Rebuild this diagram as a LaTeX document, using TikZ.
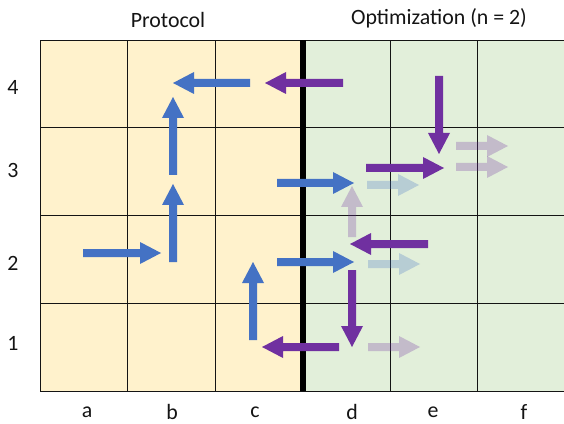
\documentclass[tikz,border=0pt]{standalone}
\usepackage{fontspec}
\setmainfont{Carlito}

\tikzset{every picture/.style={line width=0.75pt}}
\tikzset{
  lbl/.style={font=\fontsize{16.4}{19}\selectfont, color={rgb, 255:red, 20; green, 20; blue, 20 }},
  bluearw/.style={fill={rgb, 255:red, 68; green, 114; blue, 196 }, draw=none},
  purparw/.style={fill={rgb, 255:red, 112; green, 48; blue, 160 }, draw=none},
  fadeblue/.style={fill={rgb, 255:red, 68; green, 114; blue, 196 }, fill opacity=0.27, draw=none},
  fadepurp/.style={fill={rgb, 255:red, 112; green, 48; blue, 160 }, fill opacity=0.27, draw=none},
}

\begin{document}
\begin{tikzpicture}[x=0.75pt,y=0.75pt,yscale=-1,xscale=1]
\useasboundingbox (0,0) rectangle (564,424);

%Shape: Rectangle [id:protocolbg] 
\draw  [draw=none][fill={rgb, 255:red, 255; green, 242; blue, 204 }  ,fill opacity=1 ] (40,40.5) -- (302.5,40.5) -- (302.5,391) -- (40,391) -- cycle ;
%Shape: Rectangle [id:optimbg] 
\draw  [draw=none][fill={rgb, 255:red, 226; green, 239; blue, 218 }  ,fill opacity=1 ] (302.5,40.5) -- (566,40.5) -- (566,391) -- (302.5,391) -- cycle ;

%Straight Lines [id:gridv] 
\draw [color={rgb, 255:red, 20; green, 20; blue, 20 }  ,draw opacity=1 ]    (40,40.5) -- (40,391) ;
\draw [color={rgb, 255:red, 20; green, 20; blue, 20 }  ,draw opacity=1 ]    (127.5,40.5) -- (127.5,391) ;
\draw [color={rgb, 255:red, 20; green, 20; blue, 20 }  ,draw opacity=1 ]    (215,40.5) -- (215,391) ;
\draw [color={rgb, 255:red, 20; green, 20; blue, 20 }  ,draw opacity=1 ]    (390,40.5) -- (390,391) ;
\draw [color={rgb, 255:red, 20; green, 20; blue, 20 }  ,draw opacity=1 ]    (477.5,40.5) -- (477.5,391) ;
%Straight Lines [id:gridh] 
\draw [color={rgb, 255:red, 20; green, 20; blue, 20 }  ,draw opacity=1 ]    (40,40.5) -- (566,40.5) ;
\draw [color={rgb, 255:red, 20; green, 20; blue, 20 }  ,draw opacity=1 ]    (40,128) -- (566,128) ;
\draw [color={rgb, 255:red, 20; green, 20; blue, 20 }  ,draw opacity=1 ]    (40,216) -- (566,216) ;
\draw [color={rgb, 255:red, 20; green, 20; blue, 20 }  ,draw opacity=1 ]    (40,303.5) -- (566,303.5) ;
\draw [color={rgb, 255:red, 20; green, 20; blue, 20 }  ,draw opacity=1 ]    (40,391) -- (566,391) ;

%Straight Lines [id:divider] 
\draw [line width=4.5]    (302.5,40.5) -- (302.5,391) ;

%Shape: Left Arrow [id:blue1] 
\draw [bluearw] (250,79) -- (194,79) -- (194,72) -- (173,83) -- (194,94) -- (194,87) -- (250,87) -- cycle ;
%Shape: Up Arrow [id:blue2] 
\draw [bluearw] (169,175) -- (169,118) -- (162,118) -- (173,97) -- (184,118) -- (177,118) -- (177,175) -- cycle ;
%Shape: Up Arrow [id:blue3] 
\draw [bluearw] (169,262) -- (169,205) -- (162,205) -- (173,184) -- (184,205) -- (177,205) -- (177,262) -- cycle ;
%Shape: Right Arrow [id:blue4] 
\draw [bluearw] (83,249) -- (140,249) -- (140,242) -- (161,253) -- (140,264) -- (140,257) -- (83,257) -- cycle ;
%Shape: Up Arrow [id:blue5] 
\draw [bluearw] (249,340) -- (249,283) -- (242,283) -- (253,262) -- (264,283) -- (257,283) -- (257,340) -- cycle ;
%Shape: Right Arrow [id:blue6] 
\draw [bluearw] (277,258) -- (333,258) -- (333,251) -- (354,262) -- (333,273) -- (333,266) -- (277,266) -- cycle ;
%Shape: Right Arrow [id:blue7] 
\draw [bluearw] (277,179) -- (333,179) -- (333,172) -- (354,183) -- (333,194) -- (333,187) -- (277,187) -- cycle ;

%Shape: Left Arrow [id:purp1] 
\draw [purparw] (343,79) -- (286,79) -- (286,72) -- (265,83) -- (286,94) -- (286,87) -- (343,87) -- cycle ;
%Shape: Down Arrow [id:purp2] 
\draw [purparw] (435,76) -- (435,133) -- (428,133) -- (439,154) -- (450,133) -- (443,133) -- (443,76) -- cycle ;
%Shape: Right Arrow [id:purp3] 
\draw [purparw] (366,164) -- (423,164) -- (423,157) -- (444,168) -- (423,179) -- (423,172) -- (366,172) -- cycle ;
%Shape: Left Arrow [id:purp4] 
\draw [purparw] (428,240) -- (371,240) -- (371,233) -- (350,244) -- (371,255) -- (371,248) -- (428,248) -- cycle ;
%Shape: Down Arrow [id:purp5] 
\draw [purparw] (348,270) -- (348,326) -- (341,326) -- (352,347) -- (363,326) -- (356,326) -- (356,270) -- cycle ;
%Shape: Left Arrow [id:purp6] 
\draw [purparw] (339,343) -- (283,343) -- (283,336) -- (262,347) -- (283,358) -- (283,351) -- (339,351) -- cycle ;

%Shape: Up Arrow [id:fade1] 
\draw [fadepurp] (348,237) -- (348,207) -- (341,207) -- (352,186) -- (363,207) -- (356,207) -- (356,237) -- cycle ;
%Shape: Right Arrow [id:fade2] 
\draw [fadeblue] (367,181) -- (398,181) -- (398,174) -- (419,185) -- (398,196) -- (398,189) -- (367,189) -- cycle ;
%Shape: Right Arrow [id:fade3] 
\draw [fadeblue] (368,260) -- (399,260) -- (399,253) -- (420,264) -- (399,275) -- (399,268) -- (368,268) -- cycle ;
%Shape: Right Arrow [id:fade4] 
\draw [fadepurp] (368,343) -- (399,343) -- (399,336) -- (420,347) -- (399,358) -- (399,351) -- (368,351) -- cycle ;
%Shape: Right Arrow [id:fade5] 
\draw [fadepurp] (456,142) -- (487,142) -- (487,135) -- (508,146) -- (487,157) -- (487,150) -- (456,150) -- cycle ;
%Shape: Right Arrow [id:fade6] 
\draw [fadepurp] (456,163) -- (487,163) -- (487,156) -- (508,167) -- (487,178) -- (487,171) -- (456,171) -- cycle ;

% Text Node
\draw (168,20) node [lbl]  (protocol) {Protocol};
% Text Node
\draw (439,18) node [lbl]  (optim) {Optimization (n = 2)};
% Text Node
\draw (13,87) node [lbl]  (row4) {4};
% Text Node
\draw (13,170) node [lbl]  (row3) {3};
% Text Node
\draw (13,263) node [lbl]  (row2) {2};
% Text Node
\draw (13,343) node [lbl]  (row1) {1};
% Text Node
\draw (87,412) node [lbl]  (cola) {a};
% Text Node
\draw (172,412) node [lbl]  (colb) {b};
% Text Node
\draw (255,412) node [lbl]  (colc) {c};
% Text Node
\draw (352,412) node [lbl]  (cold) {d};
% Text Node
\draw (433,412) node [lbl]  (cole) {e};
% Text Node
\draw (524,412) node [lbl]  (colf) {f};

\end{tikzpicture}
\end{document}
